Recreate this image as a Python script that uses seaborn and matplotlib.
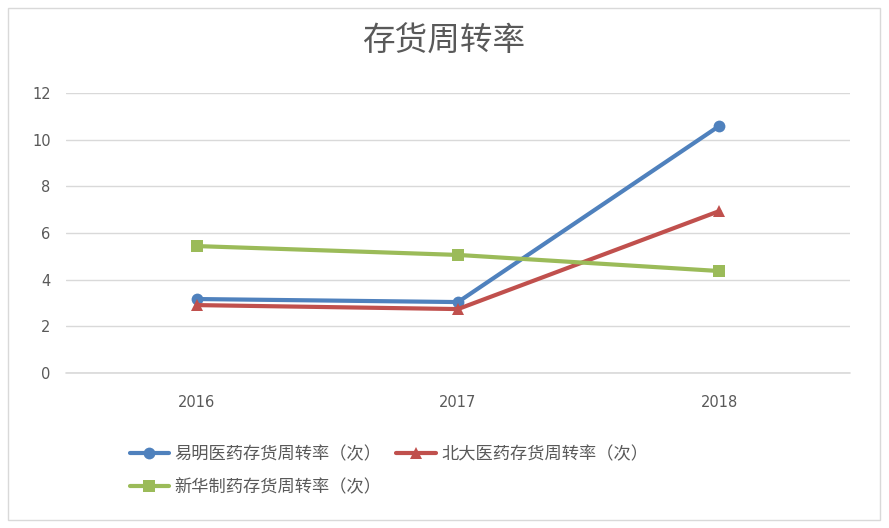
import pandas as pd
import matplotlib.pyplot as plt
import seaborn as sns
from matplotlib.patches import Rectangle

# chart data
years = ['2016', '2017', '2018']
yiming = [3.17, 3.04, 10.59]
beida = [2.91, 2.74, 6.94]
xinhua = [5.44, 5.06, 4.37]
series_names = ['易明医药存货周转率（次）', '北大医药存货周转率（次）', '新华制药存货周转率（次）']

df = pd.DataFrame({
    'year': years * 3,
    'value': yiming + beida + xinhua,
    'series': [series_names[0]] * 3 + [series_names[1]] * 3 + [series_names[2]] * 3,
})

sns.set_theme(style='white')
plt.rcParams['font.family'] = ['Noto Sans CJK SC', 'DejaVu Sans']

fig = plt.figure(figsize=(8.89, 5.28), dpi=100)
ax = fig.add_axes([66 / 889, 1 - 373 / 528, (850 - 66) / 889, (373 - 93) / 528])

palette = ['#4F81BD', '#C0504D', '#9BBB59']
markers = ['o', '^', 's']
sns.lineplot(data=df, x='year', y='value', hue='series', style='series',
             palette=palette, markers=markers, dashes=False,
             linewidth=3, markersize=8.5, markeredgewidth=0, ax=ax, legend=True)

ax.set_xlim(-0.5, 2.5)
ax.set_ylim(0, 12)
ax.set_yticks(range(0, 13, 2))
ax.grid(axis='y', color='#d9d9d9', linewidth=1)
ax.axhline(0, color='#d9d9d9', linewidth=1.2, clip_on=False, zorder=0)
ax.set_axisbelow(True)
for s in ax.spines.values():
    s.set_visible(False)
ax.tick_params(axis='both', length=0, labelsize=10.5, colors='#595959')
ax.tick_params(axis='x', pad=16)
ax.tick_params(axis='y', pad=11)
for lab in ax.get_xticklabels() + ax.get_yticklabels():
    lab.set_family('DejaVu Sans')
ax.set_xlabel('')
ax.set_ylabel('')

# row-major legend: first row two entries, second row one
handles, labels = ax.get_legend_handles_labels()
ax.get_legend().remove()
order = [0, 2, 1]
fig.legend([handles[i] for i in order], [labels[i] for i in order],
           loc='upper left', bbox_to_anchor=(114 / 889, 1 - 430 / 528),
           ncol=2, frameon=False, fontsize=12.4, handlelength=2.3, handletextpad=0.3,
           columnspacing=0.87, labelspacing=0.85, labelcolor='#595959')

fig.text(444 / 889, 1 - 42 / 528, '存货周转率', ha='center', va='center',
         fontsize=23.5, color='#595959')

fig.patches.append(Rectangle((8 / 889, 8 / 528), 872 / 889, 512 / 528,
                             transform=fig.transFigure, fill=False,
                             edgecolor='#d9d9d9', linewidth=1))

fig.savefig('out.png', dpi=100)
